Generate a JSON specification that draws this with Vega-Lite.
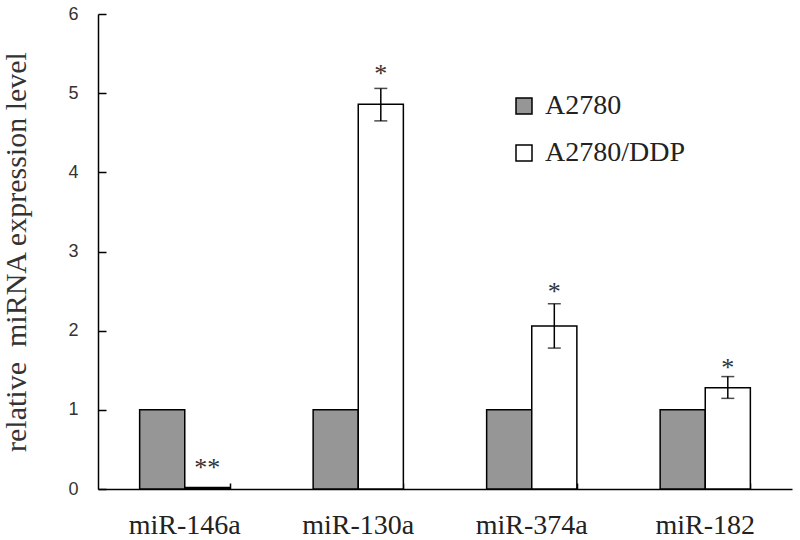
{
  "$schema": "https://vega.github.io/schema/vega-lite/v6.json",
  "width": 694,
  "height": 475,
  "autosize": "none",
  "padding": {"left": 98, "top": 14, "right": 8, "bottom": 51},
  "background": "white",
  "config": {
    "view": {"stroke": null},
    "font": "Liberation Serif",
    "axis": {"grid": false, "domainColor": "#000", "domainWidth": 1.5, "tickColor": "#000", "tickWidth": 1.5, "labelOverlap": false}
  },
  "data": {
    "values": [
      {"gene": "miR-146a", "group": "A2780", "value": 1},
      {"gene": "miR-146a", "group": "A2780/DDP", "value": 0.02, "lo": 0.02, "hi": 0.02, "sig": "**", "sig_y": 0.33},
      {"gene": "miR-130a", "group": "A2780", "value": 1},
      {"gene": "miR-130a", "group": "A2780/DDP", "value": 4.86, "lo": 4.65, "hi": 5.06, "sig": "*", "sig_y": 5.3},
      {"gene": "miR-374a", "group": "A2780", "value": 1},
      {"gene": "miR-374a", "group": "A2780/DDP", "value": 2.06, "lo": 1.78, "hi": 2.34, "sig": "*", "sig_y": 2.55},
      {"gene": "miR-182", "group": "A2780", "value": 1},
      {"gene": "miR-182", "group": "A2780/DDP", "value": 1.28, "lo": 1.145, "hi": 1.42, "sig": "*", "sig_y": 1.59}
    ]
  },
  "resolve": {"axis": {"x": "independent", "y": "independent"}},
  "layer": [
    {
      "mark": {"type": "bar", "stroke": "#000", "strokeWidth": 1.5},
      "encoding": {
        "x": {
          "field": "gene", "type": "nominal", "sort": null,
          "scale": {"paddingInner": 0.48, "paddingOuter": 0.24},
          "axis": {"title": null, "labelAngle": 0, "labelFont": "Liberation Serif", "labelFontSize": 28, "labelColor": "#222", "labelPadding": 22, "ticks": false}
        },
        "xOffset": {"field": "group", "type": "nominal", "sort": ["A2780", "A2780/DDP"]},
        "y": {
          "field": "value", "type": "quantitative",
          "scale": {"domain": [0, 6], "nice": false},
          "axis": {"title": "relative\u00a0\u00a0miRNA expression level", "titleFont": "Liberation Serif", "titleFontSize": 30, "titleFontWeight": "normal", "titleColor": "#333", "titlePadding": 36, "labelFont": "Liberation Sans", "labelFontSize": 18, "labelColor": "#333", "labelPadding": 20, "values": [0, 1, 2, 3, 4, 5, 6], "ticks": false}
        },
        "fill": {
          "field": "group", "type": "nominal",
          "scale": {"domain": ["A2780", "A2780/DDP"], "range": ["#969696", "#ffffff"]},
          "legend": {"title": null, "orient": "none", "legendX": 412, "legendY": 78, "padding": 0, "symbolType": "square", "symbolSize": 256, "symbolStrokeColor": "#000", "symbolStrokeWidth": 1.5, "labelFontSize": 28, "labelColor": "#222", "labelFont": "Liberation Serif", "rowPadding": 19, "labelOffset": 7}
        }
      }
    },
    {
      "transform": [{"filter": "datum.hi != null && datum.hi > datum.lo"}],
      "mark": {"type": "rule", "color": "#000", "strokeWidth": 1.5},
      "encoding": {
        "x": {"field": "gene", "type": "nominal", "sort": null,
          "axis": {"orient": "top", "offset": -475, "title": null, "labels": false, "domain": false, "ticks": true, "tickSize": 6, "tickBand": "extent"}},
        "xOffset": {"field": "group", "type": "nominal", "sort": ["A2780", "A2780/DDP"]},
        "y": {"field": "lo", "type": "quantitative",
          "axis": {"orient": "right", "offset": -694, "title": null, "labels": false, "domain": false, "ticks": true, "tickSize": 8, "values": [0, 1, 2, 3, 4, 5, 6]}},
        "y2": {"field": "hi"}
      }
    },
    {
      "transform": [{"filter": "datum.hi != null && datum.hi > datum.lo"}],
      "mark": {"type": "tick", "color": "#000", "thickness": 1.5, "size": 13, "orient": "horizontal"},
      "encoding": {
        "x": {"field": "gene", "type": "nominal", "sort": null, "axis": null},
        "xOffset": {"field": "group", "type": "nominal", "sort": ["A2780", "A2780/DDP"]},
        "y": {"field": "lo", "type": "quantitative", "axis": null}
      }
    },
    {
      "transform": [{"filter": "datum.hi != null && datum.hi > datum.lo"}],
      "mark": {"type": "tick", "color": "#000", "thickness": 1.5, "size": 13, "orient": "horizontal"},
      "encoding": {
        "x": {"field": "gene", "type": "nominal", "sort": null, "axis": null},
        "xOffset": {"field": "group", "type": "nominal", "sort": ["A2780", "A2780/DDP"]},
        "y": {"field": "hi", "type": "quantitative", "axis": null}
      }
    },
    {
      "transform": [{"filter": "datum.sig != null"}],
      "mark": {"type": "text", "fontSize": 26, "color": "#333", "baseline": "middle", "dy": 5},
      "encoding": {
        "x": {"field": "gene", "type": "nominal", "sort": null, "axis": null},
        "xOffset": {"field": "group", "type": "nominal", "sort": ["A2780", "A2780/DDP"]},
        "y": {"field": "sig_y", "type": "quantitative", "axis": null},
        "text": {"field": "sig"}
      }
    }
  ]
}
